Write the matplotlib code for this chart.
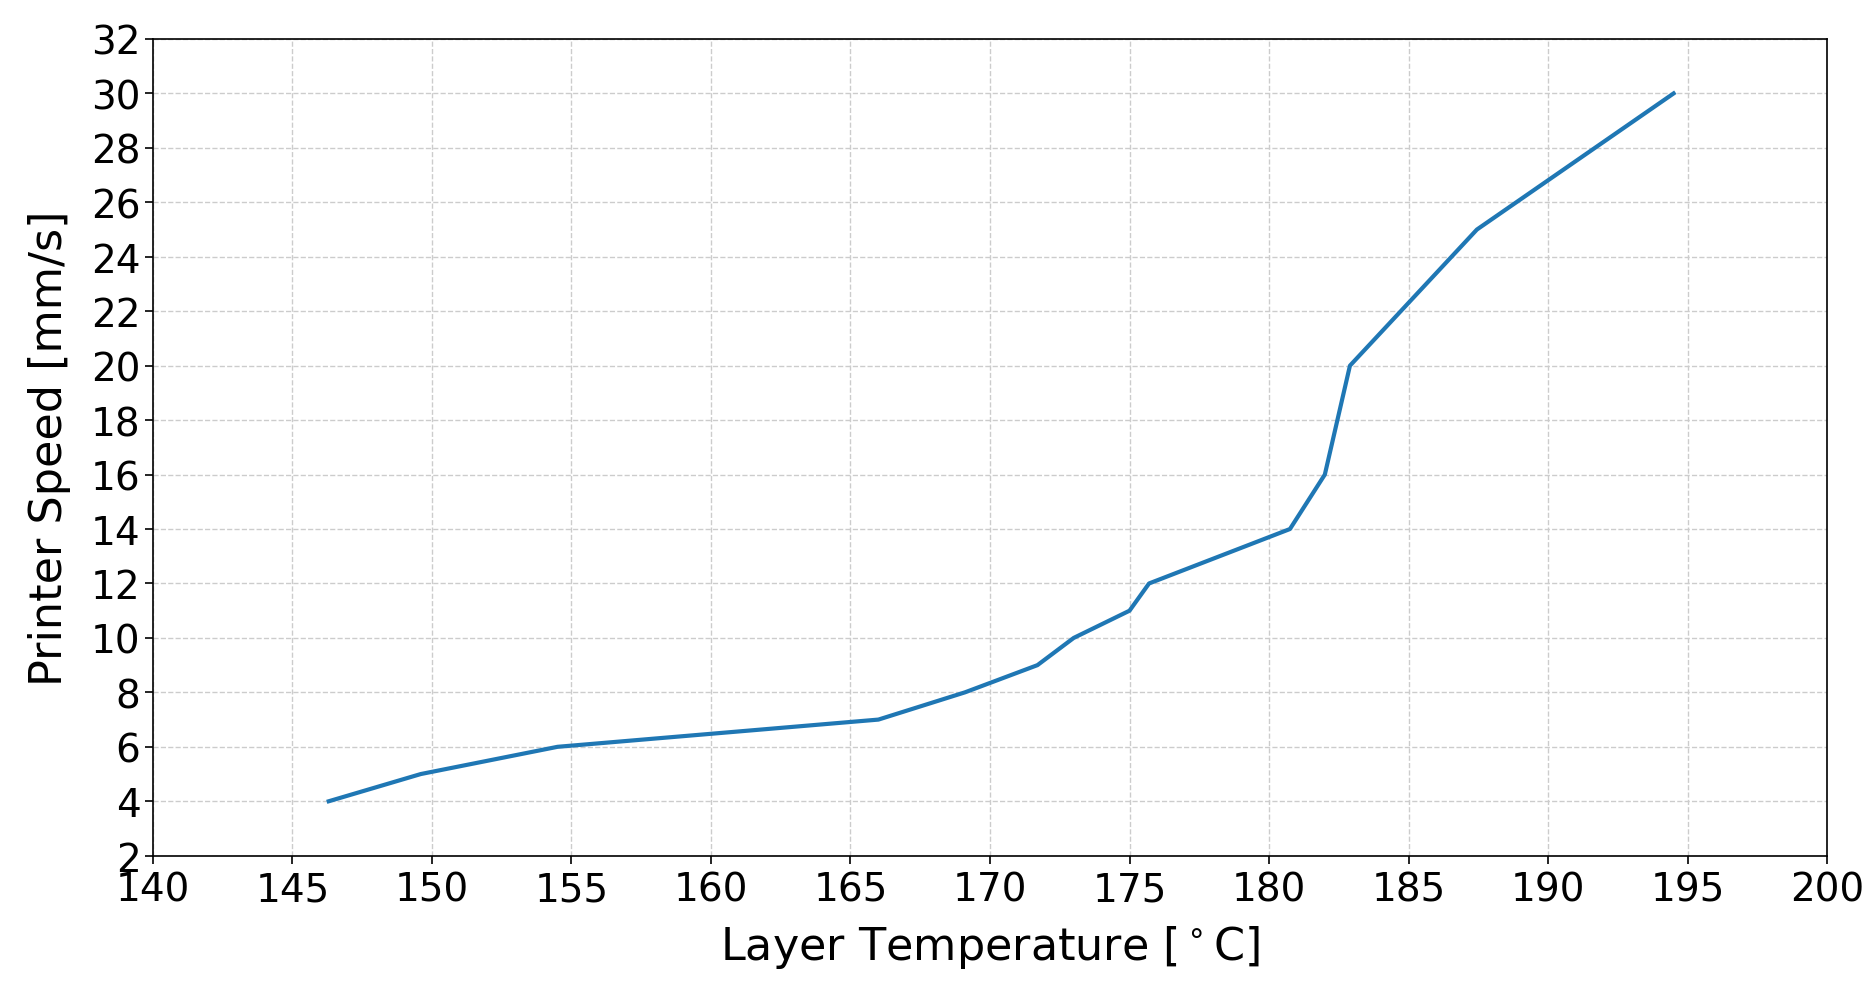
import numpy as np
import matplotlib.pyplot as plt

# layer temperature vs printer speed
temperature = [146.3, 149.6, 154.5, 166.0, 169.1, 171.7, 173.0, 175.0, 175.7, 180.75, 182.0, 182.9, 187.45, 194.5]
speed = [4, 5, 6, 7, 8, 9, 10, 11, 12, 14, 16, 20, 25, 30]

xticks = np.arange(140, 201, 5)
yticks = np.arange(2, 33, 2)

fig = plt.figure(figsize=(18.72, 9.87), dpi=100)
ax = fig.add_axes([0.0817, 0.132, 0.8943, 0.8275])

ax.plot(temperature, speed, color='#1f77b4', linewidth=3)

ax.set_xlim(140, 200)
ax.set_ylim(2, 32)
ax.set_xticks(xticks)
ax.set_yticks(yticks)
ax.tick_params(labelsize=28, length=6, width=1.2, pad=3)
ax.tick_params(axis='x', pad=5)
ax.grid(True, linestyle='--', color='#cccccc', linewidth=1)
for s in ax.spines.values():
    s.set_linewidth(1.2)

ax.set_xlabel(r'Layer Temperature [$^\circ$C]', fontsize=32, labelpad=10)
ax.set_ylabel('Printer Speed [mm/s]', fontsize=32, labelpad=14)

fig.savefig('out.png', dpi=100)
